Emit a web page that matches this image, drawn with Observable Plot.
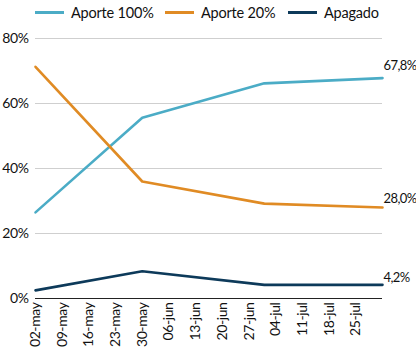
<!DOCTYPE html>
<html><head><meta charset="utf-8">
<script src="https://cdn.jsdelivr.net/npm/d3@7"></script>
<script src="https://cdn.jsdelivr.net/npm/@observablehq/plot@0.6"></script>
<style>
body{margin:0;background:#fff;font-family:Lato,sans-serif;}
#legend{position:relative;height:24px;font-size:14.5px;color:#111;white-space:nowrap;letter-spacing:-0.2px;}
.item{position:absolute;top:0;height:24px;display:flex;align-items:center;}
.sw{width:29px;height:3px;margin-right:7px;}
.endlab{letter-spacing:-0.6px;}
</style></head>
<body>
<div id="legend"></div>
<div id="chart"></div>
<script>
const seriesNames = ["Aporte 100%", "Aporte 20%", "Apagado"];
const seriesColors = ["#4BACC6", "#E08B24", "#0D3A5A"];
const dates = ["2022-05-02", "2022-05-30", "2022-07-01", "2022-08-01"];
const aporte100 = [26.5, 55.6, 66.2, 67.8];
const aporte20 = [71.3, 36.0, 29.2, 28.0];
const apagado = [2.5, 8.4, 4.2, 4.2];
const endLabels = ["67,8%", "28,0%", "4,2%"];
const tickDates = ["2022-05-02","2022-05-09","2022-05-16","2022-05-23","2022-05-30","2022-06-06","2022-06-13","2022-06-20","2022-06-27","2022-07-04","2022-07-11","2022-07-18","2022-07-25"];
const tickLabels = ["02-may","09-may","16-may","23-may","30-may","06-jun","13-jun","20-jun","27-jun","04-jul","11-jul","18-jul","25-jul"];
const yTicks = [0, 20, 40, 60, 80];

const parse = d3.utcParse("%Y-%m-%d");
const valuesBySeries = [aporte100, aporte20, apagado];
const data = [];
seriesNames.forEach((s, i) => dates.forEach((d, j) => data.push({series: s, date: parse(d), value: valuesBySeries[i][j]})));
const last = seriesNames.map((s, i) => ({series: s, date: parse(dates[dates.length-1]), value: valuesBySeries[i][dates.length-1], label: endLabels[i]}));
const ticks = tickDates.map(parse);
const labelMap = new Map(ticks.map((t, i) => [+t, tickLabels[i]]));

const leg = document.getElementById("legend");
const lefts = [35, 165, 288];
seriesNames.forEach((s, i) => {
  const it = document.createElement("div"); it.className = "item"; it.style.left = lefts[i] + "px";
  const sw = document.createElement("div"); sw.className = "sw"; sw.style.background = seriesColors[i];
  const tx = document.createElement("span"); tx.textContent = s;
  it.append(sw, tx); leg.append(it);
});

const dys = [-12, -9, -7];
const chart = Plot.plot({
  width: 416, height: 330,
  marginLeft: 35, marginRight: 34, marginTop: 14, marginBottom: 56,
  style: {fontFamily: "Lato, sans-serif", fontSize: "14px", color: "#111", background: "#fff", letterSpacing: "-0.4px"},
  x: {type: "utc", domain: [parse("2022-05-02"), parse("2022-08-01")]},
  y: {domain: [0, 80]},
  color: {domain: seriesNames, range: seriesColors},
  marks: [
    Plot.gridY(yTicks.slice(1), {stroke: "#cfcfcf", strokeOpacity: 1, strokeWidth: 1, x1: parse("2022-05-01T12:00"), x2: parse("2022-08-01")}),
    Plot.axisY({ticks: yTicks, tickFormat: d => d + "%", tickSize: 0, tickPadding: 7, fontSize: 14, label: null}),
    Plot.axisX({ticks, tickFormat: d => labelMap.get(+d), tickRotate: -90, tickSize: 0, tickPadding: 4, fontSize: 14, label: null}),
    Plot.ruleY([0], {stroke: "#222", strokeWidth: 1}),
    Plot.line(data, {x: "date", y: "value", z: "series", stroke: "series", strokeWidth: 2.6}),
    ...last.map((d, i) => Plot.text([d], {x: "date", y: "value", text: "label", textAnchor: "start", dx: 1, dy: dys[i], fontSize: 13, fill: "#111", className: "endlab"}))
  ]
});
document.getElementById("chart").append(chart);
</script>
</body></html>
